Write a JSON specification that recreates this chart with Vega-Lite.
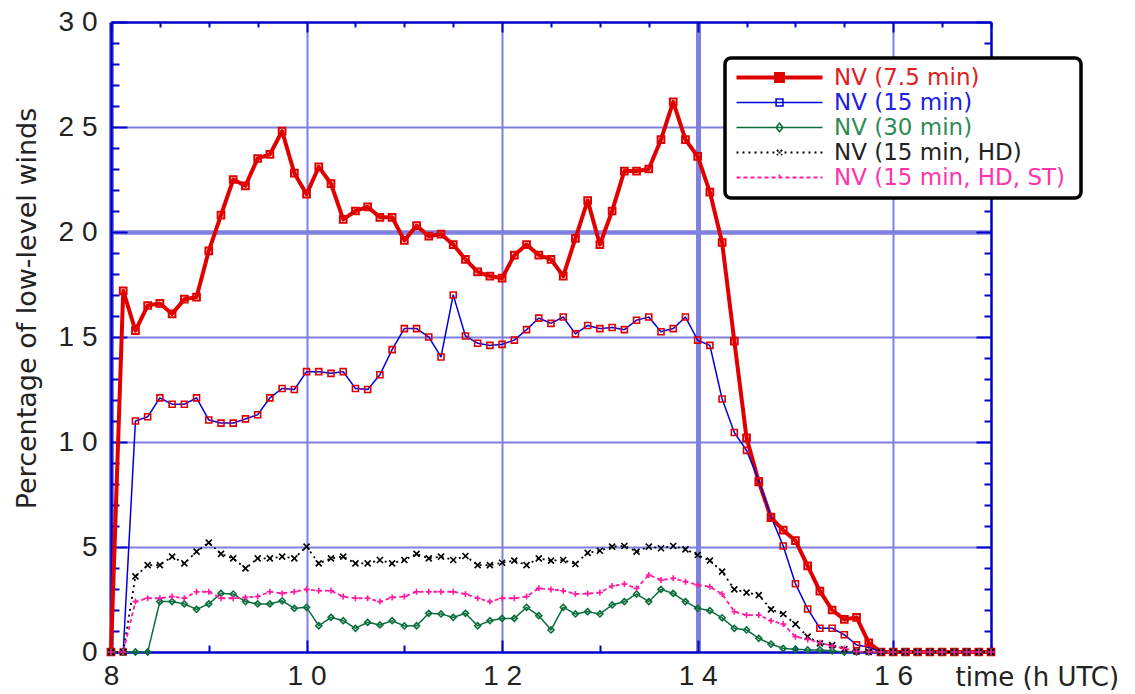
{
"$schema": "https://vega.github.io/schema/vega-lite/v6.json",
"width": 880, "height": 630,
"autosize": {"type": "none"},
"padding": {"left": 111, "top": 22, "right": 144, "bottom": 42},
"background": "white",
"config": {"view": {"stroke": null}, "legend": {"strokeWidth": 3.5, "strokeColor": "#000000", "cornerRadius": 6, "fillColor": "#ffffff"}},
"data": {"values": [
{"t":8,"s":"r","v":0},{"t":8.125,"s":"r","v":17.2},{"t":8.25,"s":"r","v":15.3},{"t":8.375,"s":"r","v":16.5},{"t":8.5,"s":"r","v":16.6},{"t":8.625,"s":"r","v":16.1},{"t":8.75,"s":"r","v":16.8},{"t":8.875,"s":"r","v":16.9},
{"t":9,"s":"r","v":19.1},{"t":9.125,"s":"r","v":20.8},{"t":9.25,"s":"r","v":22.5},{"t":9.375,"s":"r","v":22.2},{"t":9.5,"s":"r","v":23.5},{"t":9.625,"s":"r","v":23.7},{"t":9.75,"s":"r","v":24.8},{"t":9.875,"s":"r","v":22.8},
{"t":10,"s":"r","v":21.8},{"t":10.125,"s":"r","v":23.1},{"t":10.25,"s":"r","v":22.3},{"t":10.375,"s":"r","v":20.6},{"t":10.5,"s":"r","v":21.0},{"t":10.625,"s":"r","v":21.2},{"t":10.75,"s":"r","v":20.7},{"t":10.875,"s":"r","v":20.7},
{"t":11,"s":"r","v":19.6},{"t":11.125,"s":"r","v":20.3},{"t":11.25,"s":"r","v":19.8},{"t":11.375,"s":"r","v":19.9},{"t":11.5,"s":"r","v":19.4},{"t":11.625,"s":"r","v":18.7},{"t":11.75,"s":"r","v":18.1},{"t":11.875,"s":"r","v":17.9},
{"t":12,"s":"r","v":17.8},{"t":12.125,"s":"r","v":18.9},{"t":12.25,"s":"r","v":19.4},{"t":12.375,"s":"r","v":18.9},{"t":12.5,"s":"r","v":18.7},{"t":12.625,"s":"r","v":17.9},{"t":12.75,"s":"r","v":19.7},{"t":12.875,"s":"r","v":21.5},
{"t":13,"s":"r","v":19.4},{"t":13.125,"s":"r","v":21.0},{"t":13.25,"s":"r","v":22.9},{"t":13.375,"s":"r","v":22.9},{"t":13.5,"s":"r","v":23.0},{"t":13.625,"s":"r","v":24.4},{"t":13.75,"s":"r","v":26.2},{"t":13.875,"s":"r","v":24.4},
{"t":14,"s":"r","v":23.6},{"t":14.125,"s":"r","v":21.9},{"t":14.25,"s":"r","v":19.5},{"t":14.375,"s":"r","v":14.8},{"t":14.5,"s":"r","v":10.2},{"t":14.625,"s":"r","v":8.1},{"t":14.75,"s":"r","v":6.4},{"t":14.875,"s":"r","v":5.8},
{"t":15,"s":"r","v":5.3},{"t":15.125,"s":"r","v":4.1},{"t":15.25,"s":"r","v":2.9},{"t":15.375,"s":"r","v":2.0},{"t":15.5,"s":"r","v":1.55},{"t":15.625,"s":"r","v":1.65},{"t":15.75,"s":"r","v":0.44},{"t":15.875,"s":"r","v":0},
{"t":16,"s":"r","v":0},{"t":16.125,"s":"r","v":0},{"t":16.25,"s":"r","v":0},{"t":16.375,"s":"r","v":0},{"t":16.5,"s":"r","v":0},{"t":16.625,"s":"r","v":0},{"t":16.75,"s":"r","v":0},{"t":16.875,"s":"r","v":0},{"t":17,"s":"r","v":0},

{"t":8,"s":"b","v":0},{"t":8.125,"s":"b","v":0},{"t":8.25,"s":"b","v":11.0},{"t":8.375,"s":"b","v":11.2},{"t":8.5,"s":"b","v":12.1},{"t":8.625,"s":"b","v":11.8},{"t":8.75,"s":"b","v":11.8},{"t":8.875,"s":"b","v":12.1},
{"t":9,"s":"b","v":11.05},{"t":9.125,"s":"b","v":10.9},{"t":9.25,"s":"b","v":10.9},{"t":9.375,"s":"b","v":11.1},{"t":9.5,"s":"b","v":11.3},{"t":9.625,"s":"b","v":12.1},{"t":9.75,"s":"b","v":12.55},{"t":9.875,"s":"b","v":12.5},
{"t":10,"s":"b","v":13.35},{"t":10.125,"s":"b","v":13.35},{"t":10.25,"s":"b","v":13.27},{"t":10.375,"s":"b","v":13.35},{"t":10.5,"s":"b","v":12.55},{"t":10.625,"s":"b","v":12.5},{"t":10.75,"s":"b","v":13.2},{"t":10.875,"s":"b","v":14.4},
{"t":11,"s":"b","v":15.4},{"t":11.125,"s":"b","v":15.4},{"t":11.25,"s":"b","v":15.0},{"t":11.375,"s":"b","v":14.05},{"t":11.5,"s":"b","v":17.0},{"t":11.625,"s":"b","v":15.05},{"t":11.75,"s":"b","v":14.7},{"t":11.875,"s":"b","v":14.6},
{"t":12,"s":"b","v":14.65},{"t":12.125,"s":"b","v":14.85},{"t":12.25,"s":"b","v":15.35},{"t":12.375,"s":"b","v":15.9},{"t":12.5,"s":"b","v":15.65},{"t":12.625,"s":"b","v":15.95},{"t":12.75,"s":"b","v":15.15},{"t":12.875,"s":"b","v":15.55},
{"t":13,"s":"b","v":15.4},{"t":13.125,"s":"b","v":15.45},{"t":13.25,"s":"b","v":15.35},{"t":13.375,"s":"b","v":15.8},{"t":13.5,"s":"b","v":15.95},{"t":13.625,"s":"b","v":15.25},{"t":13.75,"s":"b","v":15.4},{"t":13.875,"s":"b","v":15.95},
{"t":14,"s":"b","v":14.85},{"t":14.125,"s":"b","v":14.6},{"t":14.25,"s":"b","v":12.05},{"t":14.375,"s":"b","v":10.45},{"t":14.5,"s":"b","v":9.6},{"t":14.625,"s":"b","v":8.15},{"t":14.75,"s":"b","v":6.45},{"t":14.875,"s":"b","v":5.05},
{"t":15,"s":"b","v":3.25},{"t":15.125,"s":"b","v":2.05},{"t":15.25,"s":"b","v":1.13},{"t":15.375,"s":"b","v":1.13},{"t":15.5,"s":"b","v":0.82},{"t":15.625,"s":"b","v":0.34},{"t":15.75,"s":"b","v":0.22},{"t":15.875,"s":"b","v":0},
{"t":16,"s":"b","v":0},{"t":16.125,"s":"b","v":0},{"t":16.25,"s":"b","v":0},{"t":16.375,"s":"b","v":0},{"t":16.5,"s":"b","v":0},{"t":16.625,"s":"b","v":0},{"t":16.75,"s":"b","v":0},{"t":16.875,"s":"b","v":0},{"t":17,"s":"b","v":0},

{"t":8,"s":"g","v":0},{"t":8.125,"s":"g","v":0},{"t":8.25,"s":"g","v":0},{"t":8.375,"s":"g","v":0},{"t":8.5,"s":"g","v":2.4},{"t":8.625,"s":"g","v":2.4},{"t":8.75,"s":"g","v":2.29},{"t":8.875,"s":"g","v":2.03},
{"t":9,"s":"g","v":2.29},{"t":9.125,"s":"g","v":2.79},{"t":9.25,"s":"g","v":2.76},{"t":9.375,"s":"g","v":2.4},{"t":9.5,"s":"g","v":2.29},{"t":9.625,"s":"g","v":2.29},{"t":9.75,"s":"g","v":2.44},{"t":9.875,"s":"g","v":2.08},
{"t":10,"s":"g","v":2.13},{"t":10.125,"s":"g","v":1.25},{"t":10.25,"s":"g","v":1.65},{"t":10.375,"s":"g","v":1.49},{"t":10.5,"s":"g","v":1.13},{"t":10.625,"s":"g","v":1.41},{"t":10.75,"s":"g","v":1.29},{"t":10.875,"s":"g","v":1.49},
{"t":11,"s":"g","v":1.24},{"t":11.125,"s":"g","v":1.25},{"t":11.25,"s":"g","v":1.84},{"t":11.375,"s":"g","v":1.81},{"t":11.5,"s":"g","v":1.65},{"t":11.625,"s":"g","v":1.84},{"t":11.75,"s":"g","v":1.25},{"t":11.875,"s":"g","v":1.49},
{"t":12,"s":"g","v":1.6},{"t":12.125,"s":"g","v":1.6},{"t":12.25,"s":"g","v":2.13},{"t":12.375,"s":"g","v":1.73},{"t":12.5,"s":"g","v":1.05},{"t":12.625,"s":"g","v":2.13},{"t":12.75,"s":"g","v":1.81},{"t":12.875,"s":"g","v":1.92},
{"t":13,"s":"g","v":1.81},{"t":13.125,"s":"g","v":2.24},{"t":13.25,"s":"g","v":2.4},{"t":13.375,"s":"g","v":2.76},{"t":13.5,"s":"g","v":2.4},{"t":13.625,"s":"g","v":2.98},{"t":13.75,"s":"g","v":2.79},{"t":13.875,"s":"g","v":2.4},
{"t":14,"s":"g","v":2.08},{"t":14.125,"s":"g","v":1.97},{"t":14.25,"s":"g","v":1.63},{"t":14.375,"s":"g","v":1.13},{"t":14.5,"s":"g","v":1.05},{"t":14.625,"s":"g","v":0.65},{"t":14.75,"s":"g","v":0.38},{"t":14.875,"s":"g","v":0.17},
{"t":15,"s":"g","v":0.13},{"t":15.125,"s":"g","v":0.1},{"t":15.25,"s":"g","v":0.1},{"t":15.375,"s":"g","v":0.05},{"t":15.5,"s":"g","v":0},{"t":15.625,"s":"g","v":0},{"t":15.75,"s":"g","v":0},{"t":15.875,"s":"g","v":0},
{"t":16,"s":"g","v":0},{"t":16.125,"s":"g","v":0},{"t":16.25,"s":"g","v":0},{"t":16.375,"s":"g","v":0},{"t":16.5,"s":"g","v":0},{"t":16.625,"s":"g","v":0},{"t":16.75,"s":"g","v":0},{"t":16.875,"s":"g","v":0},{"t":17,"s":"g","v":0},

{"t":8,"s":"k","v":0},{"t":8.125,"s":"k","v":0},{"t":8.25,"s":"k","v":3.6},{"t":8.375,"s":"k","v":4.14},{"t":8.5,"s":"k","v":4.14},{"t":8.625,"s":"k","v":4.54},{"t":8.75,"s":"k","v":4.22},{"t":8.875,"s":"k","v":4.78},
{"t":9,"s":"k","v":5.21},{"t":9.125,"s":"k","v":4.67},{"t":9.25,"s":"k","v":4.46},{"t":9.375,"s":"k","v":3.98},{"t":9.5,"s":"k","v":4.46},{"t":9.625,"s":"k","v":4.46},{"t":9.75,"s":"k","v":4.54},{"t":9.875,"s":"k","v":4.46},
{"t":10,"s":"k","v":5.02},{"t":10.125,"s":"k","v":4.22},{"t":10.25,"s":"k","v":4.46},{"t":10.375,"s":"k","v":4.54},{"t":10.5,"s":"k","v":4.22},{"t":10.625,"s":"k","v":4.22},{"t":10.75,"s":"k","v":4.38},{"t":10.875,"s":"k","v":4.22},
{"t":11,"s":"k","v":4.38},{"t":11.125,"s":"k","v":4.67},{"t":11.25,"s":"k","v":4.46},{"t":11.375,"s":"k","v":4.54},{"t":11.5,"s":"k","v":4.38},{"t":11.625,"s":"k","v":4.57},{"t":11.75,"s":"k","v":4.14},{"t":11.875,"s":"k","v":4.14},
{"t":12,"s":"k","v":4.25},{"t":12.125,"s":"k","v":4.35},{"t":12.25,"s":"k","v":4.14},{"t":12.375,"s":"k","v":4.46},{"t":12.5,"s":"k","v":4.35},{"t":12.625,"s":"k","v":4.38},{"t":12.75,"s":"k","v":4.19},{"t":12.875,"s":"k","v":4.72},
{"t":13,"s":"k","v":4.82},{"t":13.125,"s":"k","v":5.02},{"t":13.25,"s":"k","v":5.05},{"t":13.375,"s":"k","v":4.78},{"t":13.5,"s":"k","v":5.02},{"t":13.625,"s":"k","v":4.94},{"t":13.75,"s":"k","v":5.05},{"t":13.875,"s":"k","v":4.89},
{"t":14,"s":"k","v":4.62},{"t":14.125,"s":"k","v":4.35},{"t":14.25,"s":"k","v":3.83},{"t":14.375,"s":"k","v":2.98},{"t":14.5,"s":"k","v":2.83},{"t":14.625,"s":"k","v":2.71},{"t":14.75,"s":"k","v":2.03},{"t":14.875,"s":"k","v":1.81},
{"t":15,"s":"k","v":1.33},{"t":15.125,"s":"k","v":0.73},{"t":15.25,"s":"k","v":0.41},{"t":15.375,"s":"k","v":0.33},{"t":15.5,"s":"k","v":0.13},{"t":15.625,"s":"k","v":0.02},{"t":15.75,"s":"k","v":0},{"t":15.875,"s":"k","v":0},
{"t":16,"s":"k","v":0},{"t":16.125,"s":"k","v":0},{"t":16.25,"s":"k","v":0},{"t":16.375,"s":"k","v":0},{"t":16.5,"s":"k","v":0},{"t":16.625,"s":"k","v":0},{"t":16.75,"s":"k","v":0},{"t":16.875,"s":"k","v":0},{"t":17,"s":"k","v":0},

{"t":8,"s":"p","v":0},{"t":8.125,"s":"p","v":0},{"t":8.25,"s":"p","v":2.4},{"t":8.375,"s":"p","v":2.56},{"t":8.5,"s":"p","v":2.56},{"t":8.625,"s":"p","v":2.64},{"t":8.75,"s":"p","v":2.56},{"t":8.875,"s":"p","v":2.87},
{"t":9,"s":"p","v":2.87},{"t":9.125,"s":"p","v":2.56},{"t":9.25,"s":"p","v":2.56},{"t":9.375,"s":"p","v":2.6},{"t":9.5,"s":"p","v":2.64},{"t":9.625,"s":"p","v":2.87},{"t":9.75,"s":"p","v":2.79},{"t":9.875,"s":"p","v":2.87},
{"t":10,"s":"p","v":2.98},{"t":10.125,"s":"p","v":2.92},{"t":10.25,"s":"p","v":2.92},{"t":10.375,"s":"p","v":2.64},{"t":10.5,"s":"p","v":2.56},{"t":10.625,"s":"p","v":2.56},{"t":10.75,"s":"p","v":2.4},{"t":10.875,"s":"p","v":2.6},
{"t":11,"s":"p","v":2.64},{"t":11.125,"s":"p","v":2.87},{"t":11.25,"s":"p","v":2.87},{"t":11.375,"s":"p","v":2.87},{"t":11.5,"s":"p","v":2.87},{"t":11.625,"s":"p","v":2.76},{"t":11.75,"s":"p","v":2.56},{"t":11.875,"s":"p","v":2.4},
{"t":12,"s":"p","v":2.56},{"t":12.125,"s":"p","v":2.56},{"t":12.25,"s":"p","v":2.64},{"t":12.375,"s":"p","v":3.03},{"t":12.5,"s":"p","v":2.98},{"t":12.625,"s":"p","v":2.92},{"t":12.75,"s":"p","v":2.76},{"t":12.875,"s":"p","v":2.78},
{"t":13,"s":"p","v":2.83},{"t":13.125,"s":"p","v":3.14},{"t":13.25,"s":"p","v":3.24},{"t":13.375,"s":"p","v":3.03},{"t":13.5,"s":"p","v":3.67},{"t":13.625,"s":"p","v":3.43},{"t":13.75,"s":"p","v":3.51},{"t":13.875,"s":"p","v":3.35},
{"t":14,"s":"p","v":3.19},{"t":14.125,"s":"p","v":3.11},{"t":14.25,"s":"p","v":2.76},{"t":14.375,"s":"p","v":1.92},{"t":14.5,"s":"p","v":1.76},{"t":14.625,"s":"p","v":1.76},{"t":14.75,"s":"p","v":1.49},{"t":14.875,"s":"p","v":1.33},
{"t":15,"s":"p","v":0.73},{"t":15.125,"s":"p","v":0.6},{"t":15.25,"s":"p","v":0.44},{"t":15.375,"s":"p","v":0.29},{"t":15.5,"s":"p","v":0.17},{"t":15.625,"s":"p","v":0.02},{"t":15.75,"s":"p","v":0},{"t":15.875,"s":"p","v":0},
{"t":16,"s":"p","v":0},{"t":16.125,"s":"p","v":0},{"t":16.25,"s":"p","v":0},{"t":16.375,"s":"p","v":0},{"t":16.5,"s":"p","v":0},{"t":16.625,"s":"p","v":0},{"t":16.75,"s":"p","v":0},{"t":16.875,"s":"p","v":0},{"t":17,"s":"p","v":0}
]},
"layer": [
{
"mark": {"type": "line", "strokeJoin": "round"},
"encoding": {
"x": {"field": "t", "type": "quantitative", "scale": {"domain": [8, 17], "nice": false, "zero": false},
"axis": {"orient": "bottom", "values": [8,8.5,9,9.5,10,10.5,11,11.5,12,12.5,13,13.5,14,14.5,15,15.5,16,16.5,17], "format": "d",
"domainColor": "#0000cc", "domainWidth": 2.5, "tickColor": "#0000cc", "tickWidth": 2,
"tickSize": {"condition": {"test": "datum.value % 2 === 0", "value": -12}, "value": -7},
"grid": true, "gridColor": "#8080e0",
"gridOpacity": {"condition": {"test": "datum.value % 2 === 0", "value": 1}, "value": 0},
"gridWidth": {"condition": {"test": "datum.value === 14 || datum.value === 8", "value": 5}, "value": 2},
"labelExpr": "datum.value % 2 === 0 ? (length(datum.label) > 1 ? substring(datum.label,0,1) + ' ' + substring(datum.label,1) : datum.label) : ''",
"labelFont": "Liberation Sans", "labelFontSize": 28, "labelColor": "#222222", "labelPadding": 22, "labelFlush": false, "labelOverlap": false,
"title": "time (h UTC)", "titleFont": "DejaVu Sans", "titleFontSize": 26, "titleFontWeight": "normal", "titleColor": "#222222",
"titleX": 844, "titleY": 25, "titleAlign": "left", "titleBaseline": "middle", "titleAngle": 0}},
"y": {"field": "v", "type": "quantitative", "scale": {"domain": [0, 30], "nice": false},
"axis": {"orient": "left", "values": [0,1,2,3,4,5,6,7,8,9,10,11,12,13,14,15,16,17,18,19,20,21,22,23,24,25,26,27,28,29,30], "format": "d",
"domainColor": "#0000cc", "domainWidth": 2.5, "tickColor": "#0000cc", "tickWidth": 2,
"tickSize": {"condition": {"test": "datum.value % 5 === 0", "value": -16}, "value": -8},
"grid": true, "gridColor": "#8080e0",
"gridOpacity": {"condition": {"test": "datum.value % 5 === 0 && datum.value > 0 && datum.value < 30", "value": 1}, "value": 0},
"gridWidth": {"condition": {"test": "datum.value === 20", "value": 4.5}, "value": 2},
"labelExpr": "datum.value % 5 === 0 ? (length(datum.label) > 1 ? substring(datum.label,0,1) + ' ' + substring(datum.label,1) : datum.label) : ''",
"labelFont": "Liberation Sans", "labelFontSize": 28, "labelColor": "#222222", "labelPadding": 30, "labelFlush": false, "labelOverlap": false,
"title": "Percentage of low-level winds", "titleFont": "DejaVu Sans", "titleFontSize": 27, "titleFontWeight": "normal", "titleColor": "#222222",
"titleX": -84, "titleY": 286, "titleAlign": "center", "titleBaseline": "middle", "titleAngle": -90}},
"color": {"field": "s", "type": "nominal",
"scale": {"domain": ["r","b","g","k","p"], "range": ["#e00000","#0000dd","#0a6e3c","#000000","#ff1aa0"]},
"legend": {"title": null, "orient": "none", "legendX": 614, "legendY": 36,
"padding": 8, "strokeColor": "#000000",
"rowPadding": 1, "symbolSize": 7396, "symbolOffset": 35, "labelOffset": 43,
"symbolType": {"expr": "datum.value === 'r' || datum.value === 'b' ? 'M-1,0H1M-0.08,-0.08H0.08V0.08H-0.08Z' : datum.value === 'g' ? 'M-1,0H1M0,-0.1L0.08,0L0,0.1L-0.08,0Z' : datum.value === 'k' ? 'M-1,0H1M-0.06,-0.06L0.06,0.06M0.06,-0.06L-0.06,0.06' : 'M-1,0H1M0,-0.07V0.07'"},
"symbolStrokeWidth": {"expr": "datum.value === 'r' ? 4 : datum.value === 'k' || datum.value === 'p' ? 1.8 : 1.5"},
"symbolDash": {"expr": "datum.value === 'k' ? [3,4] : datum.value === 'p' ? [5,4] : [1,0]"},
"labelColor": {"expr": "datum.value === 'r' ? '#e02020' : datum.value === 'b' ? '#2020e0' : datum.value === 'g' ? '#2e8b57' : datum.value === 'k' ? '#222222' : '#ff33aa'"},
"labelFont": "DejaVu Sans", "labelFontSize": 23, "labelLimit": 400,
"labelExpr": "datum.label === 'r' ? 'NV  (7.5 min)' : datum.label === 'b' ? 'NV  (15 min)' : datum.label === 'g' ? 'NV  (30 min)' : datum.label === 'k' ? 'NV  (15 min, HD)' : 'NV  (15 min, HD, ST)'"}},
"strokeDash": {"field": "s", "type": "nominal",
"scale": {"domain": ["r","b","g","k","p"], "range": [[1,0],[1,0],[1,0],[2,4],[4,3]]}, "legend": null},
"strokeWidth": {"condition": [{"test": "datum.s === 'r'", "value": 4}, {"test": "datum.s === 'k' || datum.s === 'p'", "value": 1.8}], "value": 1.5}
}
},
{
"mark": {"type": "point", "filled": false, "opacity": 1},
"encoding": {
"x": {"field": "t", "type": "quantitative", "scale": {"domain": [8, 17], "nice": false, "zero": false},
"axis": {"orient": "top", "values": [8,8.5,9,9.5,10,10.5,11,11.5,12,12.5,13,13.5,14,14.5,15,15.5,16,16.5,17],
"domainColor": "#0000cc", "domainWidth": 2.5, "tickColor": "#0000cc", "tickWidth": 2,
"tickSize": {"condition": {"test": "datum.value % 2 === 0", "value": -10}, "value": -5},
"grid": false, "labels": false, "title": null}},
"y": {"field": "v", "type": "quantitative", "scale": {"domain": [0, 30], "nice": false},
"axis": {"orient": "right", "values": [0,1,2,3,4,5,6,7,8,9,10,11,12,13,14,15,16,17,18,19,20,21,22,23,24,25,26,27,28,29,30],
"domainColor": "#0000cc", "domainWidth": 2.5, "tickColor": "#0000cc", "tickWidth": 2,
"tickSize": {"condition": {"test": "datum.value % 5 === 0", "value": -15}, "value": -7},
"grid": false, "labels": false, "title": null}},
"color": {"field": "s", "type": "nominal",
"scale": {"domain": ["r","b","g","k","p"], "range": ["#e00000","#dd0000","#0a6e3c","#000000","#ff1aa0"]}, "legend": null},
"shape": {"field": "s", "type": "nominal",
"scale": {"domain": ["r","b","g","k","p"], "range": ["square","square","diamond","M-1,-1L1,1M1,-1L-1,1","M-1,0L1,0M0,-1L0,1"]}, "legend": null},
"size": {"condition": {"test": "datum.s === 'r'", "value": 45}, "value": 36},
"strokeWidth": {"condition": {"test": "datum.s === 'r'", "value": 2}, "value": 1.6}
}
}
],
"resolve": {"scale": {"x": "independent", "y": "independent", "color": "independent", "shape": "independent", "strokeDash": "independent"}}
}
